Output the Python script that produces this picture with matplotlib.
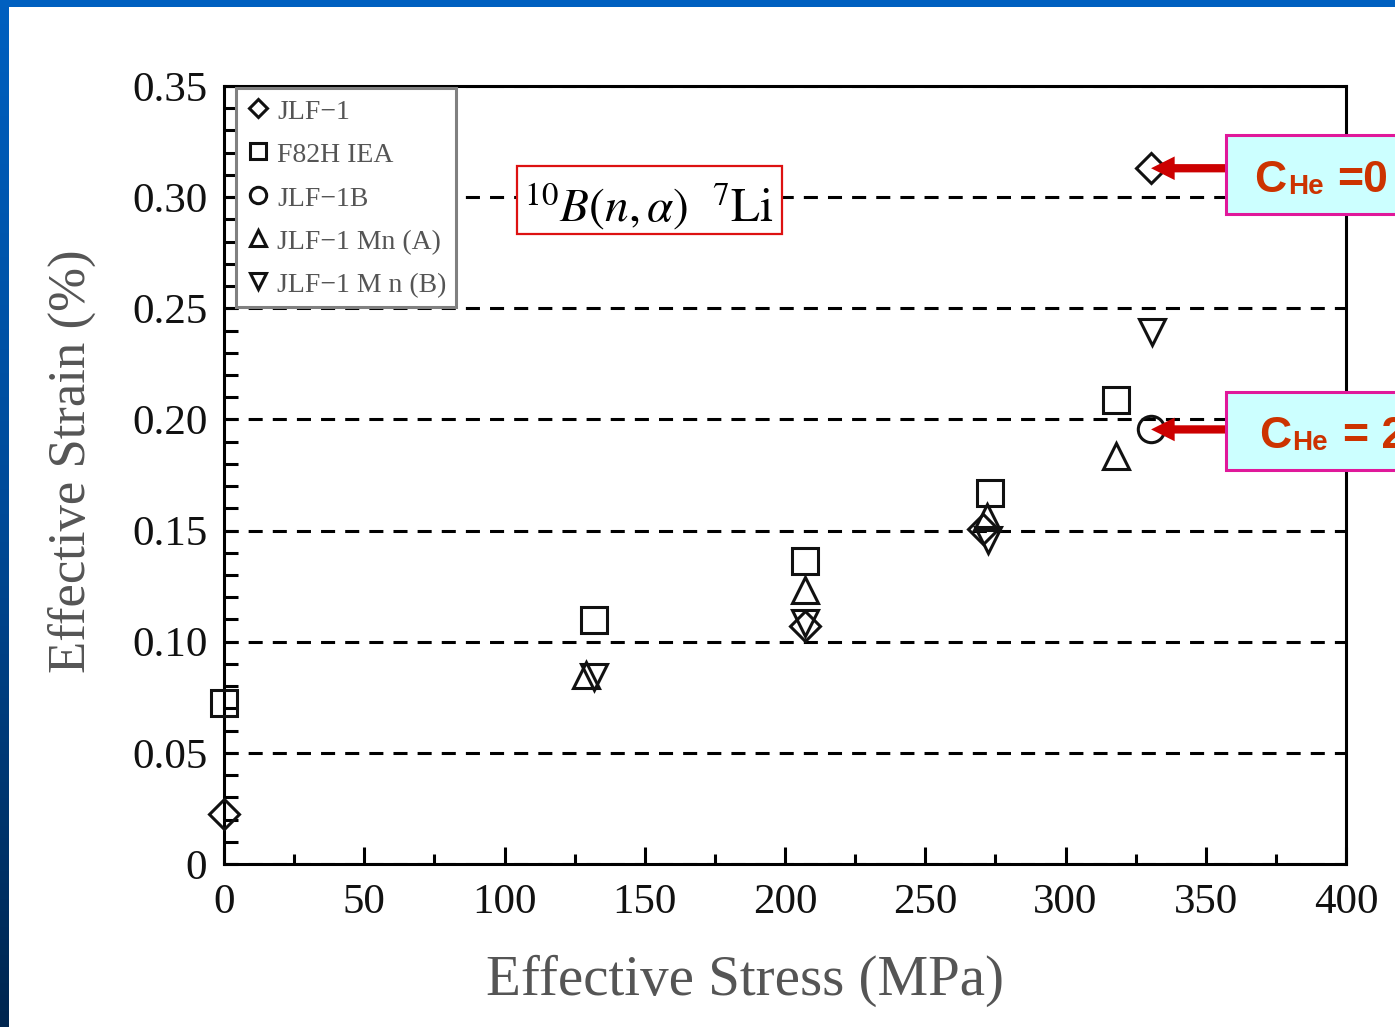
import numpy as np
import matplotlib.pyplot as plt
from matplotlib.patches import Rectangle
from matplotlib.ticker import MultipleLocator, FuncFormatter
from matplotlib.colors import LinearSegmentedColormap

plt.rcParams['mathtext.fontset'] = 'stix'

# creep strain vs. stress for each heat
stress_jlf1 = [0, 207, 270.5, 330.5]
strain_jlf1 = [0.0225, 0.1072, 0.1505, 0.313]
stress_f82h = [0, 132, 207, 273, 318]
strain_f82h = [0.0725, 0.1098, 0.1363, 0.1668, 0.2087]
stress_jlf1b = [330.5]
strain_jlf1b = [0.1955]
stress_mn_a = [129, 207, 272, 318]
strain_mn_a = [0.0850, 0.1233, 0.1560, 0.1835]
stress_mn_b = [132, 207, 272.5, 331]
strain_mn_b = [0.0841, 0.1085, 0.1457, 0.2395]

W, H = 1395, 1027
fig = plt.figure(figsize=(W / 100, H / 100), dpi=100)

# slide border: blue strip on top, gradient strip on the left
side = fig.add_axes([0, 0, 9 / W, 1])
side.axis('off')
cmap = LinearSegmentedColormap.from_list('slide', ['#00264f', '#004a98', '#0060c0'])
side.imshow(np.linspace(0, 1, 256)[:, None], aspect='auto', cmap=cmap,
            origin='lower', extent=[0, 1, 0, 1])
fig.add_artist(Rectangle((0, 1 - 7 / H), 1, 7 / H, transform=fig.transFigure,
                         color='#0060c0', lw=0))

ax = fig.add_axes([224 / W, 163 / H, 1122 / W, 778 / H])

mk = dict(ls='none', mfc='none', mec='#111111', mew=2.2, zorder=5, clip_on=False)
ax.plot(stress_jlf1, strain_jlf1, marker='D', ms=15, label='JLF\u22121', **mk)
ax.plot(stress_f82h, strain_f82h, marker='s', ms=18.5, label='F82H IEA', **mk)
ax.plot(stress_jlf1b, strain_jlf1b, marker='o', ms=19, label='JLF\u22121B', **mk)
ax.plot(stress_mn_a, strain_mn_a, marker='^', ms=19, label='JLF\u22121 Mn (A)', **mk)
ax.plot(stress_mn_b, strain_mn_b, marker='v', ms=19, label='JLF\u22121 M n (B)', **mk)

ax.set_xlim(0, 400)
ax.set_ylim(0, 0.35)
ax.xaxis.set_major_locator(MultipleLocator(50))
ax.xaxis.set_minor_locator(MultipleLocator(25))
ax.yaxis.set_major_locator(MultipleLocator(0.05))
ax.yaxis.set_minor_locator(MultipleLocator(0.01))
ax.yaxis.set_major_formatter(FuncFormatter(lambda v, p: '0' if abs(v) < 1e-9 else f'{v:.2f}'))
ax.xaxis.set_major_formatter(FuncFormatter(lambda v, p: f'{v:.0f}'))

ax.grid(axis='y', which='major', color='black', lw=2.2, linestyle=(0, (4.6, 3.3)))
ax.set_axisbelow(True)

for s in ax.spines.values():
    s.set_linewidth(2.2)
ax.tick_params(which='both', direction='in', width=2.2, top=False, right=False)
ax.tick_params(axis='x', which='major', length=12, pad=14)
ax.tick_params(axis='x', which='minor', length=7)
ax.tick_params(axis='y', which='both', length=10, pad=12)
for lab in ax.get_xticklabels() + ax.get_yticklabels():
    lab.set_fontfamily('Liberation Serif')
    lab.set_fontsize(31)
    lab.set_color('#111111')

ax.set_xlabel('Effective Stress (MPa)', family='Liberation Serif', fontsize=41, color='#555555')
ax.xaxis.label.set_va('baseline')
ax.xaxis.set_label_coords(0.4643, -0.168)
ax.set_ylabel('Effective Strain (%)', family='Liberation Serif', fontsize=38, color='#555555')
ax.yaxis.label.set_va('center')
ax.yaxis.set_label_coords(-0.1355, 0.518)

leg = ax.legend(loc='upper left', bbox_to_anchor=(0.0107, 0.9974), borderaxespad=0,
                prop={'family': 'Liberation Serif', 'size': 20}, labelcolor='#555555',
                markerscale=0.62, handlelength=0.95, handleheight=1.0, handletextpad=0.2,
                borderpad=0.33, labelspacing=0.55, fancybox=False, framealpha=1)
leg.get_frame().set_edgecolor('#808080')
leg.get_frame().set_linewidth(2.2)
leg.set_zorder(6)

# reaction label
ax.add_patch(Rectangle((104.5, 0.2832), 94.4, 0.0306, fc='white', ec='#dd1111', lw=1.6, zorder=3))
ax.text(151.5, 0.2890, r'$^{10}B(n,\alpha)\ \ {}^{7}\mathrm{Li}$', ha='center', va='baseline',
        fontsize=34, zorder=4)

# helium concentration callouts
arrow = dict(arrowstyle='simple,head_length=1,head_width=1,tail_width=0.35', mutation_scale=17,
             fc='#cc0000', ec='none', shrinkA=0, shrinkB=0, clip_on=False)
for (px, py), (b0, b1) in [((stress_jlf1[-1], strain_jlf1[-1]), (813, 892)),
                           ((stress_jlf1b[0], strain_jlf1b[0]), (557, 635))]:
    ax.annotate('', xy=(px, py), xytext=(1226 / W, py), textcoords=('figure fraction', 'data'),
                arrowprops=arrow, annotation_clip=False, zorder=7)
    fig.add_artist(Rectangle((1226 / W, b0 / H), 200 / W, (b1 - b0) / H, transform=fig.transFigure,
                             fc='#ccffff', ec='#e0189a', lw=2.2, zorder=2))

txt = dict(color='#cc3300', fontweight='bold', family='Liberation Sans', va='baseline', zorder=3)
fig.text(1254 / W, 1 - 192 / H, 'C', fontsize=32, **txt)
fig.text(1288 / W, 1 - 194 / H, 'He', fontsize=20, **txt)
fig.text(1337 / W, 1 - 192 / H, '=0', fontsize=32, **txt)
fig.text(1259 / W, 1 - 448 / H, 'C', fontsize=32, **txt)
fig.text(1292 / W, 1 - 450 / H, 'He', fontsize=20, **txt)
fig.text(1343 / W, 1 - 448 / H, '= 2', fontsize=32, **txt)

fig.savefig('out.png', dpi=100)
